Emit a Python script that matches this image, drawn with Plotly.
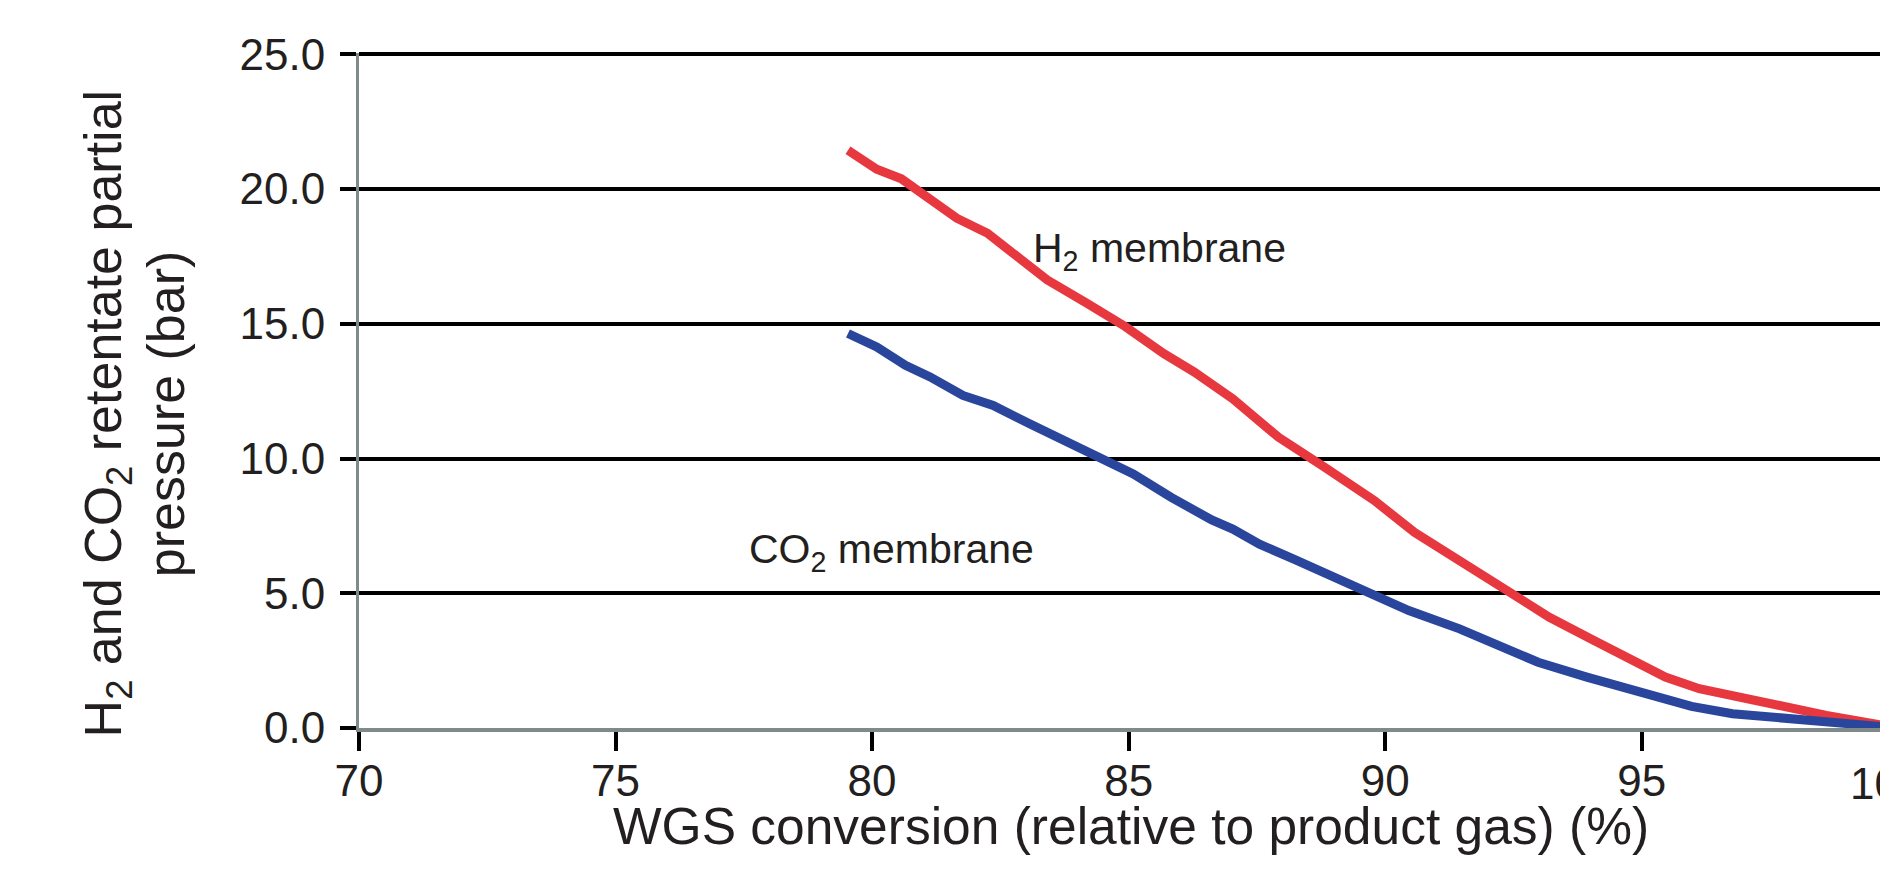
import plotly.graph_objects as go

# H2 membrane (red) curve
h2_x = [79.53, 80.09, 80.57, 80.83, 81.65, 82.25, 82.77, 83.41, 84.19, 84.94, 85.68, 86.28,
        87.03, 87.92, 88.82, 89.79, 90.57, 91.23, 91.88, 92.47, 93.20, 94.07, 94.95, 95.46,
        96.12, 96.92, 97.87, 98.60, 100.0]
h2_y = [21.44, 20.74, 20.38, 20.04, 18.92, 18.36, 17.56, 16.63, 15.76, 14.89, 13.90, 13.21,
        12.22, 10.79, 9.68, 8.44, 7.26, 6.46, 5.72, 5.00, 4.11, 3.25, 2.38, 1.89,
        1.46, 1.15, 0.72, 0.47, 0.0]

# CO2 membrane (blue) curve
co2_x = [79.53, 80.09, 80.65, 81.13, 81.77, 82.36, 83.07, 83.74, 84.42, 85.09, 85.83, 86.28,
         86.62, 87.03, 87.55, 88.22, 88.82, 89.41, 90.01, 90.46, 91.45, 92.25, 92.98, 93.93,
         94.58, 95.02, 95.42, 95.97, 96.77, 97.87, 98.96, 100.0]
co2_y = [14.64, 14.14, 13.46, 13.03, 12.34, 11.97, 11.29, 10.67, 10.05, 9.43, 8.56, 8.06,
         7.72, 7.38, 6.82, 6.27, 5.77, 5.21, 4.71, 4.36, 3.68, 3.06, 2.44, 1.89,
         1.52, 1.30, 1.12, 0.80, 0.53, 0.35, 0.19, 0.0]

x_ticks = [70, 75, 80, 85, 90, 95, 100]
y_ticks = [0, 5, 10, 15, 20, 25]
x_range = [70, 99.8]
y_range = [0, 25.05]

x_title = "WGS conversion (relative to product gas) (%)"
y_title_1 = "H<sub>2</sub> and CO<sub>2</sub> retentate partial"
y_title_2 = "pressure (bar)"
label_h2 = "H<sub>2</sub> membrane"
label_co2 = "CO<sub>2</sub> membrane"

RED = "#e8383f"
BLUE = "#2a469c"
TEXT = "#231f20"
AXIS_GRAY = "#808a8a"
FONT = "Liberation Sans, Arial, Helvetica, sans-serif"

fig = go.Figure()
fig.add_trace(go.Scatter(x=h2_x, y=h2_y, mode="lines", line=dict(color=RED, width=9),
                         name="H2 membrane", showlegend=False))
fig.add_trace(go.Scatter(x=co2_x, y=co2_y, mode="lines", line=dict(color=BLUE, width=9),
                         name="CO2 membrane", showlegend=False))

visible_x_ticks = [t for t in x_ticks if x_range[0] <= t <= x_range[1]]
hidden_x_ticks = [t for t in x_ticks if t > x_range[1]]

fig.update_layout(
    width=1880, height=879,
    paper_bgcolor="white", plot_bgcolor="white",
    margin=dict(l=351, r=0, t=44.65, b=159),
    xaxis=dict(
        range=x_range, tickmode="array", tickvals=visible_x_ticks,
        ticktext=[str(t) for t in visible_x_ticks],
        ticks="outside", ticklen=19, tickwidth=4, tickcolor="black",
        showline=True, linecolor=AXIS_GRAY, linewidth=4,
        showgrid=False, zeroline=False, ticklabelstandoff=-8,
        tickfont=dict(family=FONT, size=44, color=TEXT),
    ),
    yaxis=dict(
        range=y_range, tickmode="array", tickvals=y_ticks,
        ticktext=[f"{t:.1f}" for t in y_ticks],
        ticks="outside", ticklen=16, tickwidth=4, tickcolor="black",
        showline=True, linecolor=AXIS_GRAY, linewidth=3,
        showgrid=True, gridcolor="black", gridwidth=3.5, zeroline=False,
        ticklabelstandoff=6,
        tickfont=dict(family=FONT, size=44, color=TEXT),
    ),
)

# x-axis title
fig.add_annotation(text=x_title, xref="paper", yref="paper", x=0.505, y=-0.1445,
                   xanchor="center", yanchor="middle", showarrow=False,
                   font=dict(family=FONT, size=51.5, color=TEXT))

# y-axis title (two rotated lines)
fig.add_annotation(text=y_title_1, xref="paper", yref="paper", x=-0.1642, y=0.466,
                   xanchor="center", yanchor="middle", textangle=-90, showarrow=False,
                   font=dict(family=FONT, size=52, color=TEXT))
fig.add_annotation(text=y_title_2, xref="paper", yref="paper", x=-0.1257, y=0.466,
                   xanchor="center", yanchor="middle", textangle=-90, showarrow=False,
                   font=dict(family=FONT, size=52, color=TEXT))

# curve labels
fig.add_annotation(text=label_h2, x=85.61, y=17.7, xref="x", yref="y", showarrow=False,
                   font=dict(family=FONT, size=41, color=TEXT))
fig.add_annotation(text=label_co2, x=80.37, y=6.52, xref="x", yref="y", showarrow=False,
                   font=dict(family=FONT, size=41, color=TEXT))

# tick label(s) beyond the visible range, partially cut off by the page edge
for t in hidden_x_ticks:
    fig.add_annotation(text=str(t), xref="paper", yref="paper",
                       x=(t - x_range[0]) / (x_range[1] - x_range[0]), y=0,
                       yanchor="top", xanchor="center", yshift=-29, xshift=-12, showarrow=False,
                       font=dict(family=FONT, size=44, color=TEXT))

fig.write_html("out.html")
